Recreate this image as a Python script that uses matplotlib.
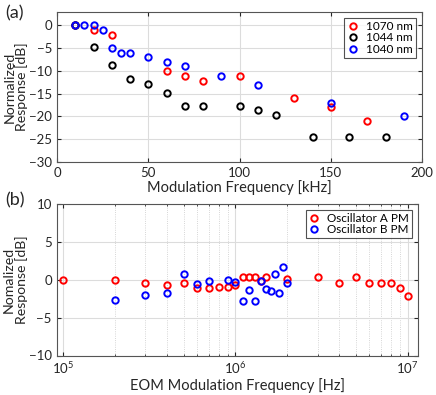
import numpy as np
import matplotlib.pyplot as plt
from matplotlib.ticker import LogLocator, NullFormatter

plt.rcParams['font.family'] = ['Lato', 'DejaVu Sans']
plt.rcParams['mathtext.fontset'] = 'custom'
plt.rcParams['mathtext.rm'] = 'Lato'

# panel (a)
f_1070 = [10, 20, 30, 60, 70, 80, 100, 130, 150, 170]
r_1070 = [0, -1.1, -2.0, -10.1, -11.1, -12.1, -11.1, -15.9, -18.0, -20.9]
f_1044 = [10, 20, 30, 40, 50, 60, 70, 80, 100, 110, 120, 140, 160, 180]
r_1044 = [0, -4.7, -8.7, -11.8, -12.8, -14.8, -17.6, -17.6, -17.6, -18.6, -19.6, -24.6, -24.6, -24.6]
f_1040 = [10, 15, 20, 25, 30, 35, 40, 50, 60, 70, 90, 110, 150, 190]
r_1040 = [0, 0, 0, -1.1, -5.0, -6.0, -6.0, -7.0, -8.0, -9.0, -11.1, -13.1, -17.0, -19.9]

# panel (b)
f_osc_a = [1e5, 2e5, 3e5, 4e5, 5e5, 6e5, 7e5, 8e5, 9e5, 1e6, 1.1e6, 1.2e6, 1.3e6, 1.4e6,
           1.5e6, 2e6, 3e6, 4e6, 5e6, 6e6, 7e6, 8e6, 9e6, 1e7]
r_osc_a = [0, 0, -0.45, -0.7, -0.45, -1.05, -1.05, -1.0, -1.0, -0.75, 0.3, 0.3, 0.3, -0.2,
           0.3, 0.05, 0.3, -0.45, 0.3, -0.45, -0.45, -0.45, -1.05, -2.2]
f_osc_b = [2e5, 3e5, 4e5, 5e5, 6e5, 7e5, 9e5, 1e6, 1.1e6, 1.2e6, 1.3e6, 1.4e6, 1.5e6,
           1.6e6, 1.7e6, 1.8e6, 1.9e6, 2e6]
r_osc_b = [-2.65, -2.0, -1.75, 0.7, -0.6, -0.18, -0.1, -0.3, -2.75, -1.3, -2.75, -0.13,
           -1.2, -1.5, 0.7, -1.75, 1.62, -0.45]

dark = '#262626'
grid_c = '#dcdcdc'
mk = dict(linestyle='none', marker='o', markerfacecolor='none', markersize=4.6, markeredgewidth=1.4)


def style(ax):
    ax.tick_params(which='both', direction='in', top=True, right=True, colors=dark,
                   labelsize=9.5, length=3)
    ax.tick_params(which='minor', length=1.5)
    for s in ax.spines.values():
        s.set_color('#555555')
        s.set_linewidth(0.8)
    ax.set_axisbelow(True)


def add_legend(ax):
    leg = ax.legend(loc='upper right', fontsize=8.5, frameon=True, fancybox=False,
                    edgecolor=dark, handlelength=1.0, handletextpad=0.6, borderpad=0.25,
                    labelspacing=0.05, borderaxespad=0.5)
    leg.get_frame().set_linewidth(0.8)


fig = plt.figure(figsize=(4.36, 3.95), dpi=100)

ax1 = fig.add_axes([0.131, 0.590, 0.837, 0.380])
ax1.plot(f_1070, r_1070, color='red', label='1070 nm', **mk)
ax1.plot(f_1044, r_1044, color='black', label='1044 nm', **mk)
ax1.plot(f_1040, r_1040, color='blue', label='1040 nm', **mk)
ax1.set_xlim(0, 200)
ax1.set_ylim(-30, 3)
ax1.set_xticks(np.arange(0, 201, 50))
ax1.set_yticks(np.arange(-30, 1, 5))
ax1.grid(True, color=grid_c, linewidth=0.8)
style(ax1)
ax1.set_xlabel('Modulation Frequency [kHz]', fontsize=10.5, color=dark, labelpad=1)
ax1.set_ylabel('Normalized\nResponse [dB]', fontsize=10.2, color=dark, linespacing=1.0)
ax1.yaxis.set_label_coords(-0.079, 0.5)
add_legend(ax1)
fig.text(0.012, 0.965, '(a)', fontsize=13, color=dark, va='center')

ax2 = fig.add_axes([0.130, 0.100, 0.829, 0.384])
ax2.plot(f_osc_a, r_osc_a, color='red', label='Oscillator A PM', **mk)
ax2.plot(f_osc_b, r_osc_b, color='blue', label='Oscillator B PM', **mk)
ax2.set_xscale('log')
ax2.set_xlim(9.15e4, 1.15e7)
ax2.set_ylim(-10, 10)
ax2.set_yticks([-10, -5, 0, 5, 10])
ax2.xaxis.set_minor_locator(LogLocator(base=10, subs=np.arange(2, 10)))
ax2.xaxis.set_minor_formatter(NullFormatter())
ax2.grid(True, which='major', color=grid_c, linewidth=0.8)
ax2.grid(True, which='minor', axis='x', color='#c8c8c8', linewidth=0.6, linestyle=':')
style(ax2)
ax2.set_xlabel('EOM Modulation Frequency [Hz]', fontsize=10.5, color=dark, labelpad=1)
ax2.set_ylabel('Nomalized\nResponse [dB]', fontsize=10.2, color=dark, linespacing=1.0)
ax2.yaxis.set_label_coords(-0.08, 0.5)
add_legend(ax2)
fig.text(0.012, 0.493, '(b)', fontsize=13, color=dark, va='center')

fig.savefig('out.png', dpi=100)
